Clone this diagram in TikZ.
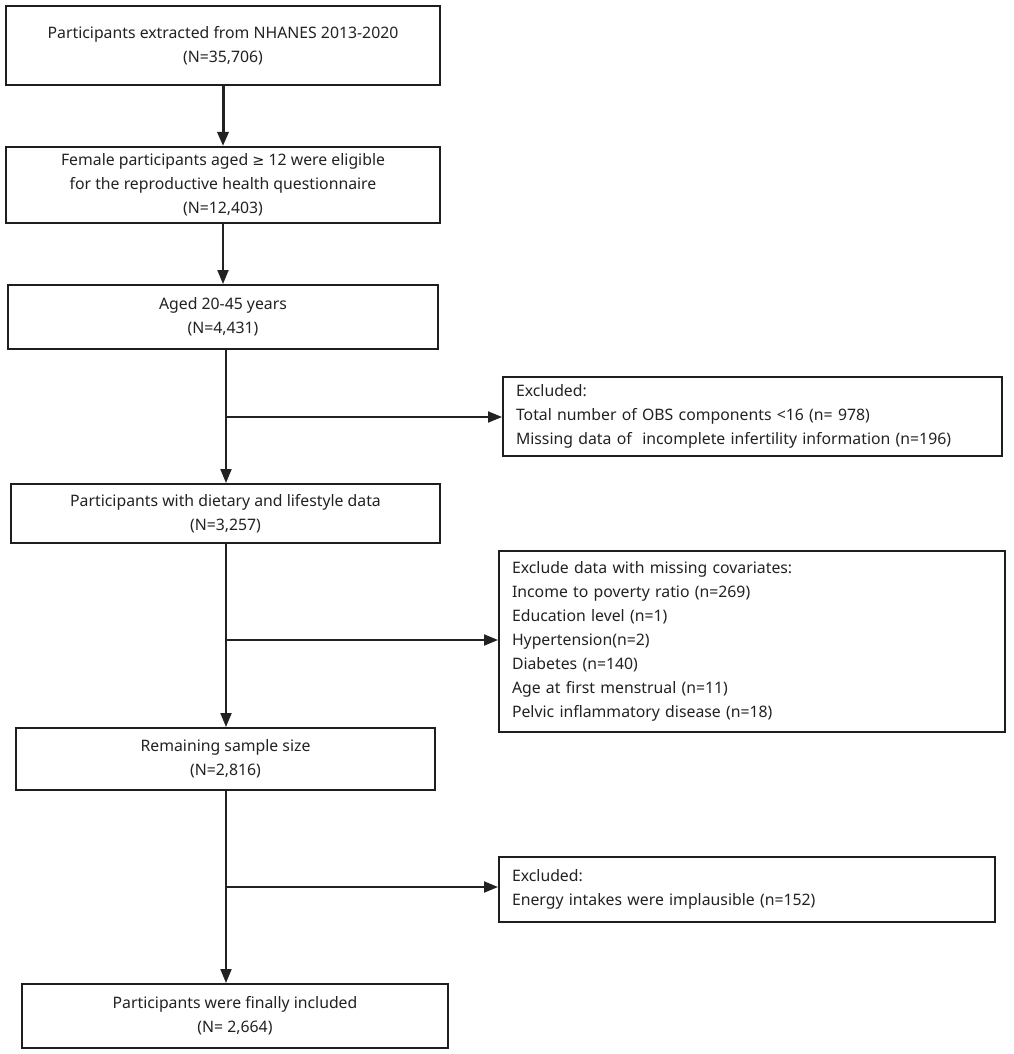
\documentclass[tikz,border=0pt]{standalone}
\usepackage{fontspec}
\setmainfont{Noto Sans}
\newfontfamily\symfont{DejaVu Sans}
\usetikzlibrary{arrows.meta}
\definecolor{ink}{HTML}{222222}
\definecolor{edge}{HTML}{1E1E1E}
\begin{document}
\begin{tikzpicture}[x=1pt,y=-1pt,
  txt/.style={font=\fontsize{15.8}{24}\selectfont, text=ink},
  mainbox/.style={txt, draw=edge, line width=2pt, align=center, inner sep=0pt},
  exbox/.style={txt, draw=edge, line width=2pt, align=left, inner xsep=13pt, inner ysep=0pt},
  conn/.style={draw=ink, line width=2pt, -{Triangle[length=14pt,width=11pt]}},
  thick conn/.style={conn, line width=3pt}
]
\useasboundingbox[fill=white] (0,0) rectangle (1013,1054);

\node[mainbox, minimum width=434pt, minimum height=79pt] (b1) at (223,45.5)
  {Participants extracted from NHANES 2013-2020\\(N=35,706)};
\node[mainbox, minimum width=434pt, minimum height=76pt] (b2) at (223,185)
  {Female participants aged {\symfont\fontsize{14.5}{24}\selectfont ≥} 12 were eligible\\for the reproductive health questionnaire\\(N=12,403)};
\node[mainbox, minimum width=430pt, minimum height=64pt] (b3) at (223,317)
  {Aged 20-45 years\\(N=4,431)};
\node[mainbox, minimum width=429pt, minimum height=59pt] (b4) at (225.5,513.5)
  {Participants with dietary and lifestyle data\\(N=3,257)};
\node[mainbox, minimum width=419pt, minimum height=62pt] (b5) at (225.5,759)
  {Remaining sample size\\(N=2,816)};
\node[mainbox, minimum width=426pt, minimum height=64pt] (b6) at (235,1016)
  {Participants were finally included\\(N= 2,664)};

\node[exbox, text width=473pt, minimum height=79pt] (e1) at (752.5,416.5)
  {Excluded:\\Total number of OBS components <16 (n= 978)\\Missing data of\ \ incomplete infertility information (n=196)};
\node[exbox, text width=480pt, minimum height=181pt] (e2) at (752,641.5)
  {Exclude data with missing covariates:\\Income to poverty ratio (n=269)\\Education level (n=1)\\Hypertension(n=2)\\Diabetes (n=140)\\Age at first menstrual (n=11)\\Pelvic inflammatory disease (n=18)};
\node[exbox, text width=470pt, minimum height=65pt] (e3) at (747,889.5)
  {Excluded:\\Energy intakes were implausible (n=152)};

\coordinate (j1) at (226,417);
\coordinate (j2) at (226,640);
\coordinate (j3) at (226,887);

\draw[thick conn] (b1) -- (b2);
\draw[conn] (b2) -- (b3);
\draw[conn] (b3.south -| j1) -- (b4.north -| j1);
\draw[conn] (j1) -- (j1 -| e1.west);
\draw[conn] (b4.south -| j2) -- (b5.north -| j2);
\draw[conn] (j2) -- (j2 -| e2.west);
\draw[conn] (b5.south -| j3) -- (b6.north -| j3);
\draw[conn] (j3) -- (j3 -| e3.west);
\end{tikzpicture}
\end{document}
